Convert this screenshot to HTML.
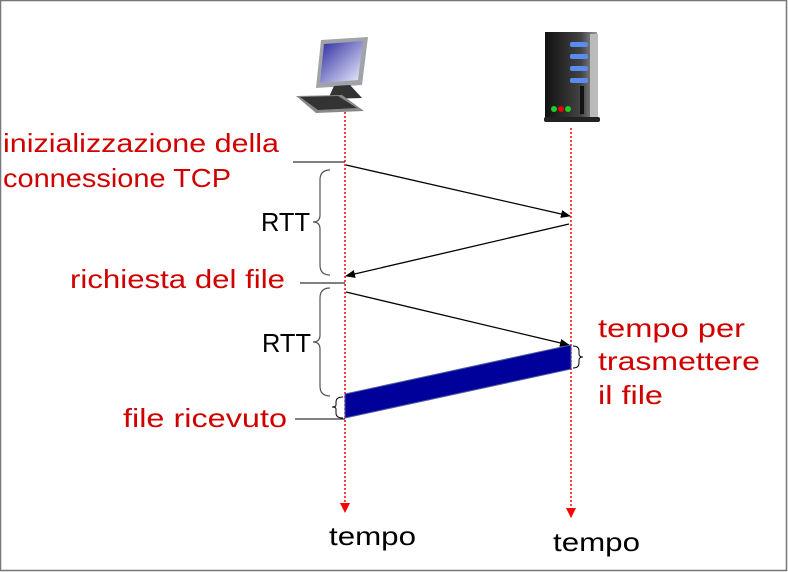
<!DOCTYPE html>
<html><head><style>
html,body{margin:0;padding:0;background:#fff}
svg{display:block}
text{font-family:"Liberation Sans",sans-serif}
</style></head><body>
<svg width="788" height="572" viewBox="0 0 788 572" xmlns="http://www.w3.org/2000/svg">
<defs>
<marker id="a" markerWidth="10" markerHeight="8" refX="9" refY="4" orient="auto" markerUnits="userSpaceOnUse"><path d="M0,0 L10,4 L0,8 z" fill="#000"/></marker>
<marker id="r" markerWidth="10" markerHeight="10" refX="9" refY="5" orient="auto" markerUnits="userSpaceOnUse"><path d="M0,0 L10,5 L0,10 z" fill="#f00"/></marker>
<linearGradient id="scr" x1="0" y1="0" x2="1" y2="1"><stop offset="0" stop-color="#2a2aa0"/><stop offset="1" stop-color="#f0f0ff"/></linearGradient>
<linearGradient id="srv" x1="0" y1="0" x2="1" y2="0"><stop offset="0" stop-color="#111"/><stop offset="0.7" stop-color="#444"/><stop offset="1" stop-color="#999"/></linearGradient>
</defs>
<rect x="0.5" y="0.5" width="786" height="570" fill="none" stroke="#777" stroke-width="1.5"/>
<!-- computer -->
<polygon points="321,40 368,37 362,85 316,88" fill="#a0a4a8"/>
<polygon points="324,44 363,41 358,80 320,83" fill="url(#scr)"/>
<polygon points="334,86 350,85 362,98 328,99" fill="#333"/>
<polygon points="296,96 342,95 364,111 316,113" fill="#888"/>
<polygon points="300,97 338,96 357,108 318,110" fill="#333"/>
<!-- server -->
<rect x="545" y="32" width="52" height="86" fill="url(#srv)"/>
<rect x="590" y="34" width="8" height="84" fill="#bbb"/>
<rect x="570" y="42" width="18" height="5" rx="2" fill="#5a8cf0"/>
<rect x="570" y="54" width="18" height="5" rx="2" fill="#5a8cf0"/>
<rect x="570" y="66" width="18" height="5" rx="2" fill="#5a8cf0"/>
<rect x="570" y="78" width="18" height="5" rx="2" fill="#5a8cf0"/>
<rect x="580" y="86" width="4" height="28" fill="#111"/>
<circle cx="554" cy="109" r="3" fill="#2c2"/><circle cx="561" cy="109" r="3" fill="#e00"/><circle cx="568" cy="109" r="3" fill="#2c2"/>
<rect x="544" y="117" width="56" height="5" rx="2" fill="#222"/>
<!-- timelines -->
<line x1="345" y1="112" x2="345" y2="512" stroke="#f00" stroke-width="1.5" stroke-dasharray="2,2" marker-end="url(#r)"/>
<line x1="571" y1="128" x2="571" y2="517" stroke="#f00" stroke-width="1.5" stroke-dasharray="2,2" marker-end="url(#r)"/>
<!-- horizontal ticks -->
<line x1="293" y1="162" x2="345" y2="162" stroke="#000" stroke-width="1"/>
<line x1="300" y1="283" x2="345" y2="283" stroke="#000" stroke-width="1"/>
<line x1="295" y1="419" x2="345" y2="419" stroke="#000" stroke-width="1"/>
<!-- arrows -->
<line x1="346" y1="165" x2="570" y2="216" stroke="#000" stroke-width="1.3" marker-end="url(#a)"/>
<line x1="569" y1="224" x2="346" y2="276" stroke="#000" stroke-width="1.3" marker-end="url(#a)"/>
<line x1="346" y1="292" x2="569" y2="345" stroke="#000" stroke-width="1.3" marker-end="url(#a)"/>
<!-- file bar -->
<polygon points="345,394 571,345 571,369 345,418" fill="#00009a" stroke="#4a5aa0" stroke-width="1"/>
<!-- braces -->
<path d="M330,170 Q320,170 320,180 L320,215 Q320,222 313,222 Q320,222 320,229 L320,265 Q320,275 330,275" fill="none" stroke="#555" stroke-width="1.2"/>
<path d="M330,288 Q320,288 320,298 L320,335 Q320,342 313,342 Q320,342 320,349 L320,386 Q320,396 330,396" fill="none" stroke="#555" stroke-width="1.2"/>
<path d="M343,397 Q336,397 336,402 L336,405 Q336,407 332,407 Q336,407 336,409 L336,413 Q336,418 343,418" fill="none" stroke="#000" stroke-width="1"/>
<path d="M573,346 Q579,346 579,351 L579,354 Q579,357 583,357 Q579,357 579,360 L579,363 Q579,368 573,368" fill="none" stroke="#000" stroke-width="1"/>
<!-- labels -->
<g fill="#d00000" font-size="26">
<text x="3" y="152" textLength="276" lengthAdjust="spacingAndGlyphs">inizializzazione della</text>
<text x="3" y="187" textLength="228" lengthAdjust="spacingAndGlyphs">connessione TCP</text>
<text x="70" y="288" textLength="215" lengthAdjust="spacingAndGlyphs">richiesta del file</text>
<text x="123" y="427" textLength="164" lengthAdjust="spacingAndGlyphs">file ricevuto</text>
<text x="598" y="337" textLength="147" lengthAdjust="spacingAndGlyphs">tempo per</text>
<text x="598" y="370" textLength="162" lengthAdjust="spacingAndGlyphs">trasmettere</text>
<text x="598" y="404" textLength="65" lengthAdjust="spacingAndGlyphs">il file</text>
</g>
<g fill="#000" font-size="26">
<text x="261" y="231" textLength="49" lengthAdjust="spacingAndGlyphs">RTT</text>
<text x="262" y="352" textLength="49" lengthAdjust="spacingAndGlyphs">RTT</text>
<text x="329" y="545" textLength="87" lengthAdjust="spacingAndGlyphs">tempo</text>
<text x="553" y="551" textLength="87" lengthAdjust="spacingAndGlyphs">tempo</text>
</g>
</svg>
</body></html>
